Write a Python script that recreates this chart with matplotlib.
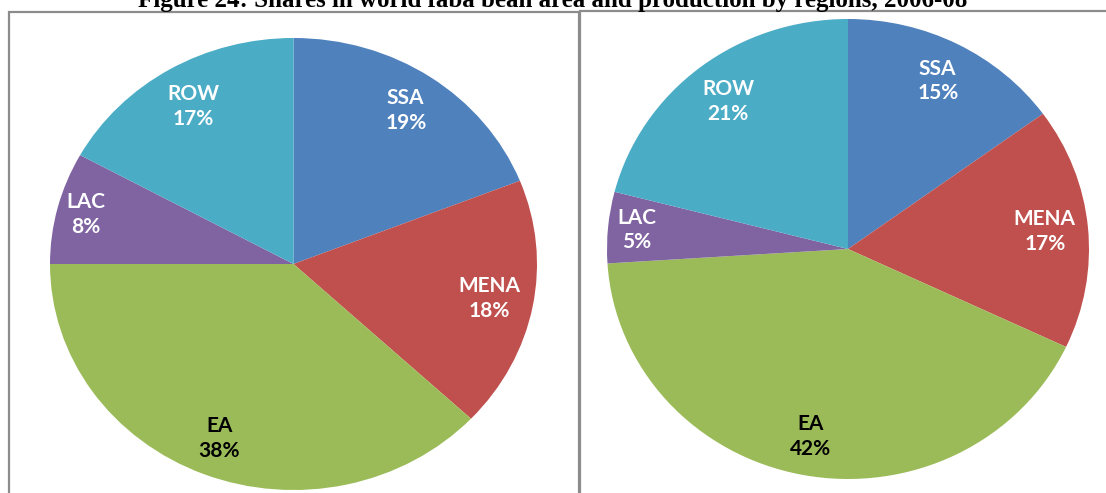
import matplotlib.pyplot as plt
from matplotlib.patches import Rectangle

# data
regions = ['SSA', 'MENA', 'EA', 'LAC', 'ROW']
area_share = [19, 18, 38, 8, 17]
production_share = [15, 17, 42, 5, 21]
colors = ['#4F81BD', '#C0504D', '#9BBB59', '#8064A2', '#4BACC6']
text_colors = ['white', 'white', 'black', 'white', 'white']
label_dist = [0.82, 0.82, 0.83, 0.88, 0.81]
title = 'Figure 24: Shares in world faba bean area and production by regions, 2006-08'

W, H = 1106, 493
fig = plt.figure(figsize=(W / 100, H / 100), dpi=100)


def px_axes(x0, y0, x1, y1):
    # pixel box (top-left origin) -> figure axes
    return fig.add_axes([x0 / W, 1 - y1 / H, (x1 - x0) / W, (y1 - y0) / H])


# panel frames
for x0, x1, top in [(9, 579, 12), (580, 1112, 11)]:
    fig.patches.append(Rectangle((x0 / W, -0.05), (x1 - x0) / W, 1.05 - top / H,
                                 transform=fig.transFigure, fill=False,
                                 edgecolor='#8c8c8c', linewidth=1.6))


def draw_pie(ax, values):
    base = 0.82
    wedges, texts, autotexts = ax.pie(
        values, colors=colors, startangle=90, counterclock=False,
        labels=None, autopct=lambda p: '', pctdistance=base,
        wedgeprops=dict(linewidth=0))
    for i, t in enumerate(autotexts):
        x, y = t.get_position()
        t.set_position((x * label_dist[i] / base, y * label_dist[i] / base))
        t.set_text('%s\n%d%%' % (regions[i], values[i]))
        t.set_color(text_colors[i])
        t.set_fontsize(15)
        t.set_fontweight('bold')
        t.set_family('Lato')
        t.set_linespacing(1.3)
    ax.set_aspect('auto')
    ax.set_xlim(-1, 1)
    ax.set_ylim(-1, 1)
    ax.axis('off')


ax1 = px_axes(50, 38, 537, 490)
draw_pie(ax1, area_share)
ax2 = px_axes(607, 19, 1089, 479)
draw_pie(ax2, production_share)

fig.text(0.5, 1 - 7 / H, title, ha='center', va='baseline',
         fontsize=18, fontweight='bold', family='Liberation Serif')

fig.savefig('out.png', dpi=100)
